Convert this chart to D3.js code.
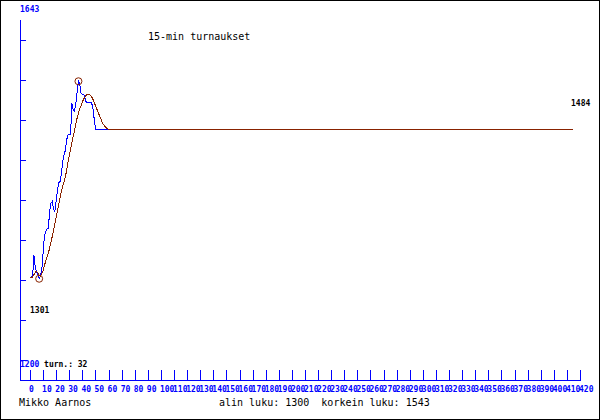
<!DOCTYPE html>
<html><head><meta charset="utf-8">
<script src="https://cdn.jsdelivr.net/npm/d3@7"></script>
<style>
html,body{margin:0;padding:0;background:#fff;}
svg{display:block;}
text{font-family:"DejaVu Sans Mono",monospace;white-space:pre;}
</style></head>
<body><svg id="c" width="600" height="420"></svg>
<script>
// ---- data ----
const title = "15-min turnaukset";
const author = "Mikko Aarnos";
const summary = "alin luku: 1300  korkein luku: 1543";
const tournamentsLabel = "turn.: 32";
const yMinLabel = "1200", yMaxLabel = "1643";
const minValue = 1300, maxValue = 1543;
const minIndex = 7, maxIndex = 37;
const lastIndex = 415;
const finalRating = 1484;
const xTickValues = [0,10,20,30,40,50,60,70,80,90,100,110,120,130,140,150,160,170,180,190,200,210,220,230,240,250,260,270,280,290,300,310,320,330,340,350,360,370,380,390,400,410,420];
// rating after each tournament (blue)
const ratings = [1302,1302,1303,1329,1314,1309,1305,1300,1304,1310,1332,1352,1358,1361,1362,1383,1393,1395,1385,1383,1396,1410,1418,1420,1430,1445,1452,1458,1471,1477,1478,1478,1516,1508,1506,1516,1530,1543,1540,1528,1527,1527,1522,1517,1517,1517,1517,1517,1510,1497,1484];
// smoothed trend (brown)
const trend = [1302,1302,1302,1305,1308,1309,1307,1304,1303,1306,1310,1316,1322,1327,1331,1338,1345,1352,1360,1368,1376,1384,1392,1400,1408,1414,1419,1425,1434,1443,1452,1460,1468,1475,1482,1490,1498,1504,1509,1513,1518,1521,1524,1526,1527,1527,1526,1524,1521,1517,1513,1509,1505,1501,1497,1493,1490,1488,1486,1485,1484];

// ---- chart ----
const svg = d3.select("#c");
const blue = "#0000ff", brown = "#882200";
const x = d3.scaleLinear().domain([0,420]).range([30,580]);
const y = d3.scaleLinear().domain([1200,1643]).range([360,0]);
const axisX0 = 20, axisY0 = 380, axisTop = 20, axisRight = 580;

svg.append("rect").attr("x",0.5).attr("y",0.5).attr("width",599).attr("height",419)
  .attr("fill","#fff").attr("stroke","#000").attr("shape-rendering","crispEdges");

// y axis
const yTicks = d3.range(9).map(i => 1200 + i*443/9);
const gy = svg.append("g").attr("transform",`translate(${axisX0},0)`)
  .call(d3.axisRight(y).tickValues(yTicks).tickSize(6).tickFormat(""));
gy.select(".domain").remove();
gy.selectAll("line").attr("stroke",blue).attr("shape-rendering","crispEdges");
svg.append("line").attr("x1",axisX0+0.5).attr("x2",axisX0+0.5).attr("y1",axisTop).attr("y2",axisY0)
  .attr("stroke",blue).attr("shape-rendering","crispEdges");

// x axis
const gx = svg.append("g").attr("transform",`translate(0,${axisY0})`)
  .call(d3.axisTop(x).tickValues(xTickValues).tickSize(10).tickFormat(""));
gx.select(".domain").remove();
gx.selectAll("line").attr("stroke",blue).attr("shape-rendering","crispEdges");
svg.append("line").attr("x1",axisX0).attr("x2",axisRight+1).attr("y1",axisY0+0.5).attr("y2",axisY0+0.5)
  .attr("stroke",blue).attr("shape-rendering","crispEdges");
svg.append("g").selectAll("text").data(xTickValues).join("text")
  .attr("x",d=>x(d)-1).attr("y",392).text(d=>d)
  .attr("fill",blue).attr("font-size","8px").attr("font-weight","bold");

// lines
const line = d3.line().x(d=>x(d[0])).y(d=>y(d[1]));
const bluePts = ratings.map((v,i)=>[i,v]).concat([[lastIndex,finalRating]]);
const brownPts = trend.map((v,i)=>[i,v]).concat([[lastIndex,finalRating]]);
svg.append("path").attr("d",line(bluePts)).attr("fill","none").attr("stroke",blue).attr("stroke-width",1).attr("shape-rendering","crispEdges");
svg.append("path").attr("d",line(brownPts)).attr("fill","none").attr("stroke",brown).attr("stroke-width",1).attr("shape-rendering","crispEdges");

// markers
svg.selectAll("circle.m").data([[minIndex,minValue],[maxIndex,maxValue]]).join("circle")
  .attr("cx",d=>x(d[0])).attr("cy",d=>y(d[1])).attr("r",3.5)
  .attr("fill","none").attr("stroke",brown).attr("stroke-width",1);

// texts
svg.append("text").attr("x",148).attr("y",40).attr("font-size","10px").text(title);
svg.append("text").attr("x",20).attr("y",12).attr("font-size","8px").attr("font-weight","bold").attr("fill",blue).text(yMaxLabel);
const t = svg.append("text").attr("x",20).attr("y",367).attr("font-size","8px").attr("font-weight","bold");
t.append("tspan").attr("fill",blue).text(yMinLabel);
t.append("tspan").attr("fill","#000").text(" " + tournamentsLabel);
svg.append("text").attr("x",30).attr("y",313).attr("font-size","8px").attr("font-weight","bold").text(String(minValue+1));
svg.append("text").attr("x",571).attr("y",106).attr("font-size","8px").attr("font-weight","bold").text(String(finalRating));
svg.append("text").attr("x",19).attr("y",406).attr("font-size","10px").text(author);
svg.append("text").attr("x",219).attr("y",406).attr("font-size","10px").text(summary);
</script></body></html>
